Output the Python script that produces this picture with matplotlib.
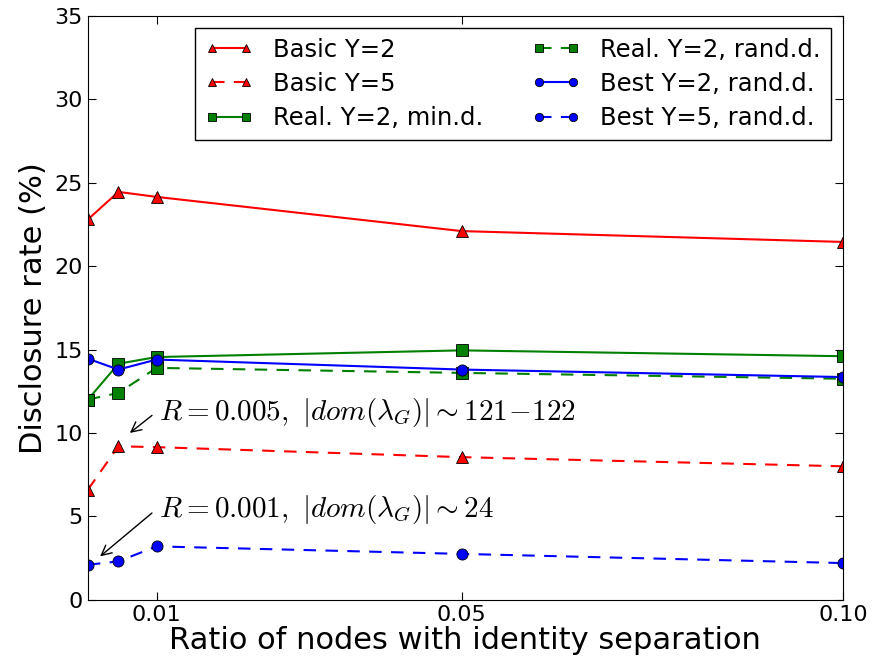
import matplotlib
matplotlib.use("Agg")
import matplotlib.pyplot as plt

plt.rcParams.update({
    "font.family": "DejaVu Sans",
    "mathtext.fontset": "cm",
    "xtick.direction": "in",
    "ytick.direction": "in",
    "xtick.top": True,
    "ytick.right": True,
    "xtick.major.size": 6,
    "ytick.major.size": 6,
})

ratio = [0.001, 0.005, 0.01, 0.05, 0.1]
basic_y2 = [22.8, 24.45, 24.15, 22.1, 21.45]
basic_y5 = [6.6, 9.2, 9.15, 8.55, 8.0]
real_y2_min = [12.0, 14.15, 14.55, 14.95, 14.6]
real_y2_rand = [12.0, 12.4, 13.9, 13.6, 13.25]
best_y2_rand = [14.45, 13.8, 14.4, 13.8, 13.35]
best_y5_rand = [2.1, 2.3, 3.2, 2.75, 2.2]

xticks = [0.01, 0.05, 0.10]
xtick_labels = ["0.01", "0.05", "0.10"]

fig = plt.figure(figsize=(8.79, 6.62), dpi=100)
ax = fig.add_axes([0.1, 0.094, 0.859, 0.882])

mk = dict(markersize=8, markeredgecolor="black", markeredgewidth=0.6)
DASH = (0, (6, 4.5))
ax.plot(ratio, basic_y2, "-", color="red", marker="^", label="Basic Y=2", **mk)
ax.plot(ratio, basic_y5, linestyle=DASH, color="red", marker="^", label="Basic Y=5", **mk)
ax.plot(ratio, real_y2_min, "-", color="green", marker="s", label="Real. Y=2, min.d.", **mk)
ax.plot(ratio, real_y2_rand, linestyle=DASH, color="green", marker="s", label="Real. Y=2, rand.d.", **mk)
ax.plot(ratio, best_y2_rand, "-", color="blue", marker="o", label="Best Y=2, rand.d.", **mk)
ax.plot(ratio, best_y5_rand, linestyle=DASH, color="blue", marker="o", label="Best Y=5, rand.d.", **mk)

ax.set_xlim(0.001, 0.1)
ax.set_ylim(0, 35)
ax.set_xticks(xticks)
ax.set_xticklabels(xtick_labels)
ax.tick_params(labelsize=16)
ax.set_xlabel("Ratio of nodes with identity separation", fontsize=22, labelpad=1)
ax.set_ylabel("Disclosure rate (%)", fontsize=22, labelpad=5)

leg = ax.legend(loc="upper right", ncol=2, fontsize=17.5, numpoints=2,
                markerscale=0.75, fancybox=False, framealpha=1,
                edgecolor="black", handlelength=2.0, handletextpad=0.82,
                columnspacing=2.0, labelspacing=0.42, borderaxespad=0.5,
                borderpad=0.4)
leg.get_frame().set_linewidth(1.0)

ax.text(0.0103, 11.25, r"$R=0.005,\ |dom(\lambda_G)|\sim121\!-\!122$",
        fontsize=21, va="center", ha="left")
ax.text(0.0103, 5.4, r"$R=0.001,\ |dom(\lambda_G)|\sim24$",
        fontsize=21, va="center", ha="left")
ax.annotate("", xy=(0.0065, 10.0), xytext=(0.0094, 11.05),
            arrowprops=dict(arrowstyle="->", color="black", lw=1,
                            shrinkA=0, shrinkB=0, mutation_scale=18))
ax.annotate("", xy=(0.0026, 2.6), xytext=(0.0094, 5.2),
            arrowprops=dict(arrowstyle="->", color="black", lw=1,
                            shrinkA=0, shrinkB=0, mutation_scale=18))

fig.savefig("out.png", dpi=100, facecolor="white")
